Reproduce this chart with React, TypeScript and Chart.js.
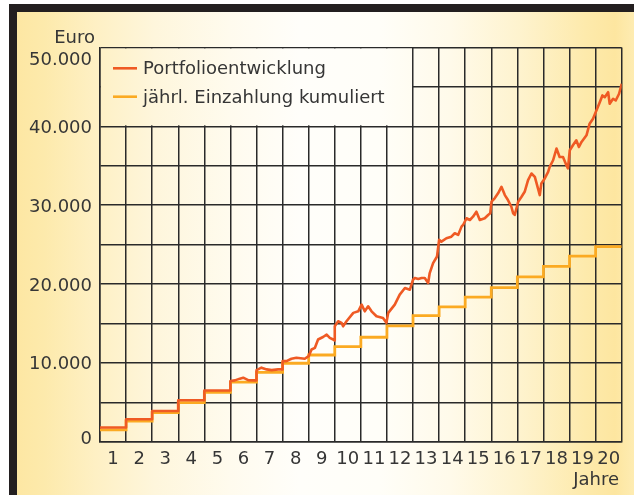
import { useEffect, useRef } from 'react';
import { Chart, registerables } from 'chart.js';

Chart.register(...registerables);

// ---- data ----
const years = [1, 2, 3, 4, 5, 6, 7, 8, 9, 10, 11, 12, 13, 14, 15, 16, 17, 18, 19, 20];
const yearLabels = years.map(String);
const einzahlungKumuliert = [1500, 2600, 3700, 4950, 6250, 7550, 8800, 9950, 11000, 12050, 13250, 14700, 16000, 17100, 18350, 19550, 20900, 22250, 23550, 24750];

// Portfolio: time in years since start, value in Euro
const portfolioT = [
  0, 1, 1, 2, 2, 3, 3, 4, 4, 5,
  5, 5.17, 5.36, 5.49, 5.68, 5.94, 6, 6, 6.19, 6.39,
  6.58, 6.83, 7, 7, 7.15, 7.34, 7.53, 7.85, 8, 8.11,
  8.24, 8.36, 8.55, 8.69, 8.81, 8.94, 8.99, 9.0, 9.13, 9.26,
  9.32, 9.45, 9.71, 9.9, 10.03, 10.15, 10.28, 10.41, 10.6, 10.85,
  10.98, 11.05, 11.3, 11.49, 11.69, 11.88, 12.0, 12.07, 12.2, 12.33,
  12.45, 12.58, 12.64, 12.77, 12.92, 13.0, 13.09, 13.28, 13.47, 13.6,
  13.73, 13.86, 13.92, 14.05, 14.18, 14.3, 14.43, 14.56, 14.75, 14.88,
  14.96, 15.01, 15.13, 15.26, 15.39, 15.52, 15.64, 15.77, 15.84, 15.9,
  16.03, 16.16, 16.28, 16.41, 16.54, 16.67, 16.79, 16.86, 16.92, 17.05,
  17.18, 17.24, 17.37, 17.5, 17.62, 17.75, 17.88, 17.94, 18.01, 18.13,
  18.26, 18.36, 18.46, 18.65, 18.77, 18.9, 19.03, 19.16, 19.26, 19.35,
  19.48, 19.54, 19.67, 19.77, 19.9, 20.0,
];
const portfolioV = [
  1800, 1800, 2850, 2850, 3900, 3900, 5250, 5250, 6500, 6500,
  7700, 7780, 8000, 8120, 7800, 7780, 7780, 9080, 9390, 9170,
  9080, 9170, 9170, 10220, 10220, 10520, 10650, 10520, 10850, 11700,
  11910, 12960, 13280, 13590, 13180, 12960, 12840, 14640, 15280, 15070,
  14640, 15280, 16340, 16540, 17390, 16540, 17170, 16540, 15910, 15700,
  15070, 16340, 17390, 18650, 19490, 19280, 20540, 20760, 20630, 20760,
  20760, 20130, 21390, 22650, 23490, 25600, 25380, 25810, 26010, 26440,
  26230, 27280, 27490, 28340, 28120, 28540, 29170, 28120, 28340, 28760,
  28970, 30440, 30870, 31500, 32330, 31280, 30650, 29800, 28970, 28760,
  30440, 31070, 31700, 33180, 34020, 33590, 32130, 31280, 32760, 33390,
  34230, 34860, 35700, 37180, 36120, 36120, 35070, 34660, 36970, 37600,
  38230, 37380, 38020, 38860, 40340, 40970, 42020, 43070, 43920, 43700,
  44330, 42870, 43500, 43280, 44130, 45400,
];

const yTickValues = [0, 10000, 20000, 30000, 40000, 50000];
const yTickLabels = ['0', '10.000', '20.000', '30.000', '40.000', '50.000'];
const yAxisTitle = 'Euro';
const xAxisTitle = 'Jahre';
const seriesNames = ['Portfolioentwicklung', 'jährl. Einzahlung kumuliert'];
const legendCoverYears = 12;
const legendCoverValue = 40000;

// ---- styles ----
const RED = '#ef5a24';
const YELLOW = '#fbaa22';
const GRID = '#2a2a2a';
const TEXT = '#363636';
const FONT = '18px "DejaVu Sans"';

function makeGradient(ctx: CanvasRenderingContext2D, width: number) {
  const g = ctx.createLinearGradient(0, 0, width, 0);
  const stops: [number, string][] = [
    [17, 'rgb(253,231,163)'],
    [45, 'rgb(253,234,172)'],
    [95, 'rgb(254,240,196)'],
    [155, 'rgb(254,246,220)'],
    [230, 'rgb(255,251,238)'],
    [300, 'rgb(255,254,250)'],
    [380, 'rgb(255,254,248)'],
    [450, 'rgb(255,250,234)'],
    [520, 'rgb(254,243,206)'],
    [585, 'rgb(253,234,172)'],
    [615, 'rgb(253,230,160)'],
    [634, 'rgb(254,236,178)'],
  ];
  stops.forEach(([x, c]) => g.addColorStop(Math.min(1, x / width), c));
  return g;
}

const decor = {
  id: 'decor',
  beforeDraw(chart: any) {
    const { ctx, width, height } = chart;
    ctx.save();
    ctx.fillStyle = '#ffffff';
    ctx.fillRect(0, 0, width, height);
    ctx.fillStyle = makeGradient(ctx, width);
    ctx.fillRect(17, 12, width - 17, height - 12);
    ctx.fillStyle = '#231f20';
    ctx.fillRect(9, 4, 8, height - 4);
    ctx.fillRect(9, 4, width - 9, 8);
    ctx.restore();
  },
  beforeDatasetsDraw(chart: any) {
    const { ctx, width, chartArea, scales } = chart;
    const x12 = scales.x.getPixelForValue(legendCoverYears);
    const y40 = scales.y.getPixelForValue(legendCoverValue);
    const l = chartArea.left + 1;
    const t = chartArea.top + 1;
    ctx.save();
    ctx.fillStyle = makeGradient(ctx, width);
    ctx.fillRect(l, t, x12 - 1 - l, y40 - 1 - t);
    ctx.restore();
  },
  afterDraw(chart: any) {
    const { ctx, chartArea, scales } = chart;
    const { top, bottom } = chartArea;
    ctx.save();
    ctx.font = FONT;
    ctx.fillStyle = TEXT;
    ctx.textBaseline = 'alphabetic';

    // y tick labels
    ctx.textAlign = 'right';
    yTickValues.forEach((v, i) => {
      let p = scales.y.getPixelForValue(v);
      p = Math.min(Math.max(p, top + 10.5), bottom - 4);
      ctx.fillText(yTickLabels[i], 92, p + 6.6);
    });
    ctx.fillText(yAxisTitle, 95, 42.7);

    // x tick labels
    ctx.textAlign = 'center';
    years.forEach((yr, i) => {
      const p = scales.x.getPixelForValue(yr - 0.5);
      ctx.fillText(yearLabels[i], p, 464.3);
    });
    ctx.textAlign = 'right';
    ctx.fillText(xAxisTitle, 619, 485);

    // legend
    const colors = [RED, YELLOW];
    const rows = [68.3, 96.7];
    colors.forEach((c, i) => {
      ctx.strokeStyle = c;
      ctx.lineWidth = 2.6;
      ctx.beginPath();
      ctx.moveTo(113, rows[i]);
      ctx.lineTo(137, rows[i]);
      ctx.stroke();
    });
    ctx.textAlign = 'left';
    ctx.fillText(seriesNames[0], 143, 74);
    ctx.fillText(seriesNames[1], 143, 102.7);
    ctx.restore();
  },
};

export default function App() {
  const ref = useRef<HTMLCanvasElement | null>(null);

  useEffect(() => {
    if (!ref.current) return;
    const portfolioData = portfolioT.map((t, i) => ({ x: t, y: portfolioV[i] }));
    const einzahlungData = years.map((yr, i) => ({ x: yr - 1, y: einzahlungKumuliert[i] }));
    einzahlungData.push({ x: years[years.length - 1], y: einzahlungKumuliert[einzahlungKumuliert.length - 1] });

    const chart = new Chart(ref.current, {
      type: 'line',
      data: {
        datasets: [
          {
            label: seriesNames[0],
            data: portfolioData,
            borderColor: RED,
            borderWidth: 2.6,
            borderJoinStyle: 'round',
            pointRadius: 0,
            tension: 0,
          },
          {
            label: seriesNames[1],
            data: einzahlungData,
            borderColor: YELLOW,
            borderWidth: 2.8,
            stepped: 'before',
            pointRadius: 0,
            tension: 0,
          },
        ],
      },
      options: {
        responsive: false,
        animation: false,
        devicePixelRatio: 1,
        layout: { padding: { left: 100, right: 12.3, top: 47.5, bottom: 53.3 } },
        plugins: { legend: { display: false }, tooltip: { enabled: false }, title: { display: false } },
        scales: {
          x: {
            type: 'linear',
            min: 0,
            max: 20,
            ticks: { stepSize: 1, display: false },
            grid: { color: GRID, lineWidth: 1.5, drawTicks: false },
            border: { color: GRID, width: 1.5 },
            afterFit: (s: any) => { s.height = 0; },
          },
          y: {
            type: 'linear',
            min: 0,
            max: 50000,
            ticks: { stepSize: 5000, display: false },
            grid: { color: GRID, lineWidth: 1.5, drawTicks: false },
            border: { color: GRID, width: 1.5 },
            afterFit: (s: any) => { s.width = 0; },
          },
        },
      } as any,
      plugins: [decor],
    });
    return () => chart.destroy();
  }, []);

  return (
    <div style={{ position: 'absolute', left: 0, top: 0, width: 634, height: 495 }}>
      <canvas ref={ref} width={634} height={495} style={{ display: 'block' }} />
    </div>
  );
}
